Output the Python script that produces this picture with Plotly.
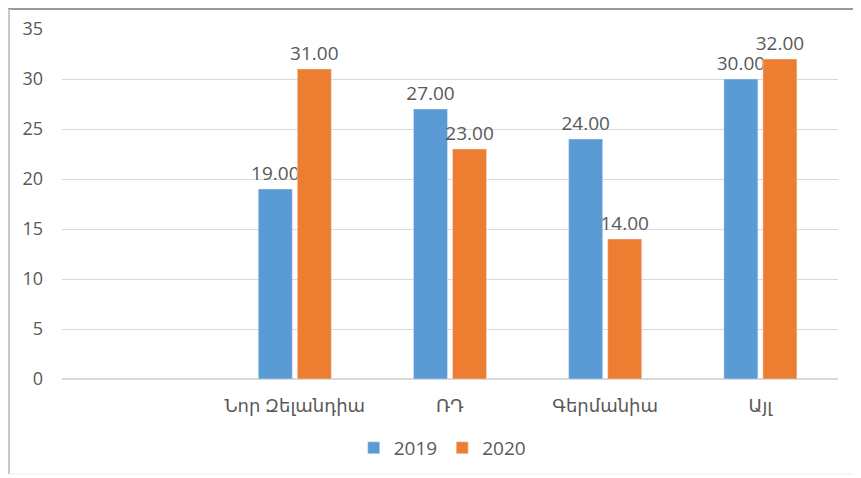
import plotly.graph_objects as go

categories = ["Նոր Զելանդիա", "ՌԴ", "Գերմանիա", "Այլ"]
series_2019 = [19, 27, 24, 30]
series_2020 = [31, 23, 14, 32]
y_ticks = [0, 5, 10, 15, 20, 25, 30, 35]

FONT = "Open Sans, DejaVu Sans, sans-serif"
GRAY = "#595959"

fig = go.Figure()
fig.add_trace(go.Bar(
    name="2019", x=categories, y=series_2019,
    marker_color="#5B9BD5",
    text=[f"{v:.2f}" for v in series_2019], textposition="outside",
    constraintext="none",
    textfont=dict(size=19, color=GRAY, family=FONT), cliponaxis=False,
))
fig.add_trace(go.Bar(
    name="2020", x=categories, y=series_2020,
    marker_color="#ED7D31",
    text=[f"{v:.2f}" for v in series_2020], textposition="outside",
    constraintext="none",
    textfont=dict(size=19, color=GRAY, family=FONT), cliponaxis=False,
))

fig.update_layout(
    width=853, height=470,
    margin=dict(l=54, r=23, t=21, b=99, autoexpand=False),
    paper_bgcolor="white", plot_bgcolor="white",
    barmode="group", bargap=0.497, bargroupgap=0.128,
    font=dict(family=FONT, color=GRAY, size=18),
    showlegend=True,
    legend=dict(orientation="h", x=0.49, xanchor="center", y=-0.197, yanchor="middle",
                font=dict(size=19, color=GRAY), itemwidth=30, traceorder="normal",
                tracegroupgap=0),
    xaxis=dict(type="category", range=[-1.5, 3.5], showgrid=False, showline=False,
               ticks="", ticklabelstandoff=14, tickfont=dict(size=18, color=GRAY)),
    yaxis=dict(range=[0, 35], tickvals=y_ticks, showgrid=True, gridcolor="#D9D9D9",
               gridwidth=1, zeroline=True, zerolinecolor="#D9D9D9", showline=False,
               ticks="", ticklabelstandoff=18, tickfont=dict(size=18, color=GRAY)),
    shapes=[
        dict(type="line", xref="paper", yref="paper", x0=-54/776, x1=1+23/776,
             y0=1+20/350, y1=1+20/350, line=dict(color="#9a9a9a", width=2)),
        dict(type="line", xref="paper", yref="paper", x0=-53/776, x1=-53/776,
             y0=1+20/350, y1=-95/350, line=dict(color="#c8c8c8", width=2)),
        dict(type="line", xref="paper", yref="paper", x0=-53/776, x1=1+23/776,
             y0=-95/350, y1=-95/350, line=dict(color="#eeeeee", width=1)),
    ],
)

fig.write_html("out.html")
